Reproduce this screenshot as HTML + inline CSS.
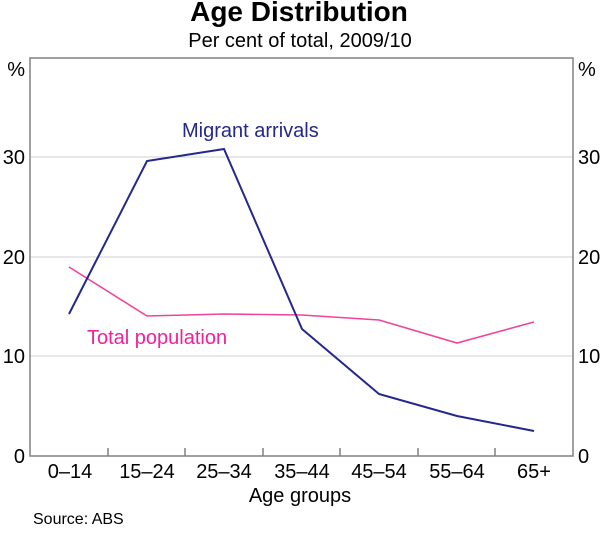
<!DOCTYPE html>
<html><head><style>
body{margin:0;background:#fff;}
svg text{font-family:"Liberation Sans",Arial,sans-serif;}
</style></head><body>
<svg width="600" height="528" viewBox="0 0 600 528" xmlns="http://www.w3.org/2000/svg">
<text x="299" y="21" text-anchor="middle" font-size="28" font-weight="bold">Age Distribution</text>
<text x="300" y="47" text-anchor="middle" font-size="20">Per cent of total, 2009/10</text>
<g stroke="#d0d0d0" stroke-width="1">
<line x1="30" x2="573" y1="157" y2="157"/>
<line x1="30" x2="573" y1="257" y2="257"/>
<line x1="30" x2="573" y1="356" y2="356"/>
</g>
<rect x="30" y="58" width="543" height="398" fill="none" stroke="#808080" stroke-width="1.5"/>
<g stroke="#808080" stroke-width="1.5">
<line x1="108" x2="108" y1="448" y2="456"/>
<line x1="185" x2="185" y1="448" y2="456"/>
<line x1="263" x2="263" y1="448" y2="456"/>
<line x1="340" x2="340" y1="448" y2="456"/>
<line x1="418" x2="418" y1="448" y2="456"/>
<line x1="495" x2="495" y1="448" y2="456"/>
</g>
<g font-size="20" text-anchor="end">
<text x="25" y="76">%</text>
<text x="25" y="164">30</text>
<text x="25" y="264">20</text>
<text x="25" y="363">10</text>
<text x="25" y="463">0</text>
</g>
<g font-size="20" text-anchor="start">
<text x="578" y="76">%</text>
<text x="578" y="164">30</text>
<text x="578" y="264">20</text>
<text x="578" y="363">10</text>
<text x="578" y="463">0</text>
</g>
<g font-size="20" text-anchor="middle">
<text x="70" y="478">0–14</text>
<text x="147" y="478">15–24</text>
<text x="224" y="478">25–34</text>
<text x="302" y="478">35–44</text>
<text x="379" y="478">45–54</text>
<text x="457" y="478">55–64</text>
<text x="534" y="478">65+</text>
<text x="300" y="502">Age groups</text>
</g>
<text x="33" y="524" font-size="16">Source: ABS</text>
<polyline fill="none" stroke="#ee4499" stroke-width="1.6" points="69,267 147,316 224,314 302,315 379,320 457,343 534,322"/>
<polyline fill="none" stroke="#24288c" stroke-width="2" points="69,314 147,161 224,149 302,329 379,394 457,416 534,431"/>
<text x="182" y="137" font-size="20" fill="#24288c">Migrant arrivals</text>
<text x="87" y="344" font-size="20" fill="#ee2299">Total population</text>
</svg>
</body></html>
